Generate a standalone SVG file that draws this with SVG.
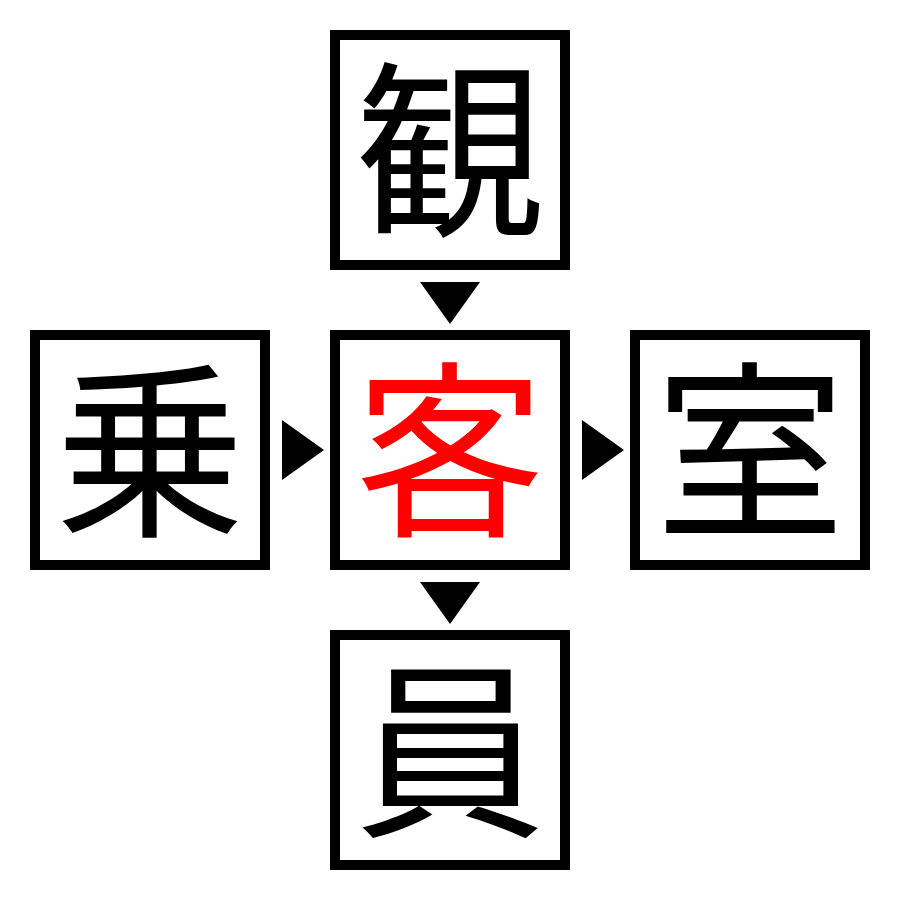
<svg xmlns="http://www.w3.org/2000/svg" width="900" height="900" viewBox="0 0 900 900">
<style>
.box{fill:#fff;stroke:#000;stroke-width:10}
.ch{font-family:"Noto Sans CJK JP","Noto Sans CJK SC",sans-serif;font-size:190px;text-anchor:middle;fill:#000}
.red{fill:#f00}
.arr{fill:#000}
</style>
<rect width="900" height="900" fill="#fff"/>
<g id="top"><rect class="box" x="335" y="35" width="230" height="230"/><text class="ch" x="450" y="222">観</text></g>
<g id="left"><rect class="box" x="35" y="335" width="230" height="230"/><text class="ch" x="150" y="522">乗</text></g>
<g id="center"><rect class="box" x="335" y="335" width="230" height="230"/><text class="ch red" x="450" y="522">客</text></g>
<g id="right"><rect class="box" x="635" y="335" width="230" height="230"/><text class="ch" x="750" y="522">室</text></g>
<g id="bottom"><rect class="box" x="335" y="635" width="230" height="230"/><text class="ch" x="450" y="822">員</text></g>
<g id="connectors">
<polygon class="arr" points="420,282 480,282 450,324"/>
<polygon class="arr" points="282,420 282,480 324,450"/>
<polygon class="arr" points="582,420 582,480 624,450"/>
<polygon class="arr" points="420,582 480,582 450,624"/>
</g>
</svg>
